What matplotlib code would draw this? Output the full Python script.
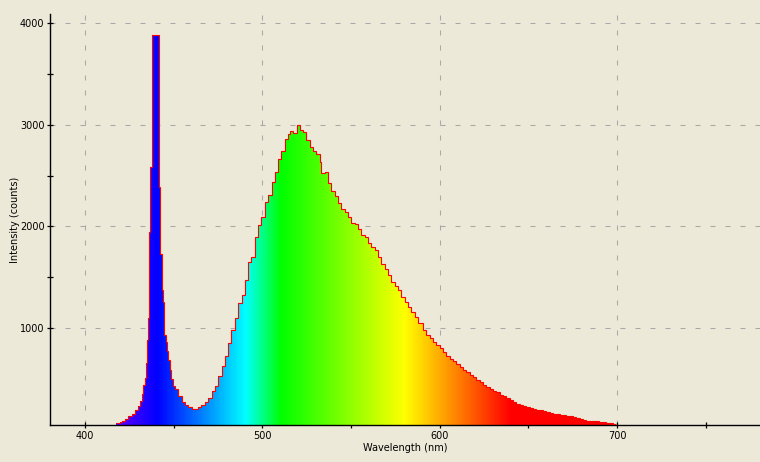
import matplotlib
matplotlib.use("Agg")
import matplotlib.pyplot as plt
import numpy as np
from matplotlib.colors import LinearSegmentedColormap

# spectrum: bin left edges (nm) and counts
edges = [417.5, 419.5, 420.7, 422.5, 424.4, 426.3, 428.2, 430.0, 431.0, 431.9,
         432.8, 433.8, 434.5, 435.1, 435.7, 436.1, 436.8, 437.6, 441.9, 442.4,
         443.2, 443.8, 444.7, 445.5, 446.0, 446.9, 447.9, 448.8, 449.7, 450.7,
         452.6, 454.5, 456.3, 458.2, 460.1, 462.0, 463.8, 465.7, 467.6, 469.5,
         471.4, 473.2, 475.1, 477.0, 478.9, 480.8, 482.6, 484.5, 486.4, 488.3,
         490.1, 492.0, 493.9, 495.8, 497.6, 499.5, 501.4, 503.3, 505.2, 507.0,
         508.9, 510.8, 512.7, 514.5, 515.5, 517.4, 519.3, 521.1, 523.0, 524.9,
         526.8, 528.6, 530.5, 532.4, 533.3, 535.2, 537.1, 539.0, 540.8, 542.7,
         544.6, 546.5, 548.3, 550.2, 552.1, 554.0, 555.9, 557.7, 559.6, 561.5,
         563.4, 565.2, 567.2, 569.0, 570.9, 572.8, 574.6, 576.5, 578.4, 580.3,
         582.1, 584.0, 585.9, 587.8, 590.6, 592.5, 594.4, 596.2, 598.1, 600.0,
         601.9, 603.8, 605.6, 607.5, 609.4, 611.3, 613.1, 615.0, 616.9, 618.8,
         620.7, 622.5, 624.4, 626.3, 628.2, 630.0, 631.9, 633.8, 635.7, 637.6,
         639.4, 641.3, 643.2, 645.1, 646.9, 648.8, 650.7, 652.6, 654.5, 656.3,
         658.2, 660.1, 662.0, 663.8, 665.7, 667.6, 669.5, 671.4, 673.2, 675.1,
         677.0, 678.9, 680.7, 682.6, 684.5, 686.4, 690.1, 693.9, 697.6, 699.5]
counts = [60, 70, 82, 106, 131, 155, 190, 236, 280, 354,
          435, 508, 660, 883, 1096, 1942, 2582, 3887, 2386, 1726,
          1374, 1259, 932, 867, 769, 687, 589, 498, 432, 400,
          327, 269, 245, 225, 204, 200, 220, 246, 269, 312,
          377, 426, 524, 622, 720, 851, 981, 1096, 1243, 1325,
          1472, 1651, 1700, 1896, 2011, 2092, 2239, 2305, 2435, 2533,
          2665, 2746, 2861, 2910, 2942, 2925, 3000, 2948, 2935, 2850,
          2778, 2739, 2713, 2631, 2523, 2533, 2425, 2347, 2295, 2229,
          2174, 2141, 2092, 2033, 2021, 1978, 1913, 1896, 1837, 1798,
          1766, 1700, 1635, 1586, 1521, 1455, 1413, 1374, 1308, 1259,
          1210, 1161, 1105, 1047, 981, 932, 900, 867, 834, 802,
          759, 726, 694, 671, 645, 616, 589, 563, 540, 514,
          491, 465, 442, 420, 400, 383, 367, 344, 327, 312,
          295, 269, 256, 246, 236, 224, 214, 204, 197, 190,
          181, 171, 165, 158, 155, 148, 141, 138, 131, 121,
          115, 106, 99, 89, 83, 83, 73, 66, 57]

# colour stops by wavelength
stop_nm = [415, 440, 490, 510, 580, 640, 700]
stop_col = ["#6a00ff", "#0000ff", "#00ffff", "#00ff00", "#ffff00", "#ff0000", "#ff0000"]

bg = "#ece9d8"

fig = plt.figure(figsize=(7.6, 4.62), dpi=100, facecolor=bg)
ax = fig.add_axes([50 / 760, 37 / 462, 710 / 760, 411 / 462], facecolor=bg)

xmin, xmax = 380.3, 780.6
ymin, ymax = 45, 4092

ax.grid(True, color="#a8a8a8", lw=0.75, linestyle=(0, (4.8, 9.6)))
ax.set_axisbelow(True)

shape = ax.stairs(counts, edges, baseline=0, fill=True, facecolor="none",
                  edgecolor="none", zorder=2)

cmap = LinearSegmentedColormap.from_list(
    "spec", [((s - stop_nm[0]) / (stop_nm[-1] - stop_nm[0]), c) for s, c in zip(stop_nm, stop_col)])
grad = np.linspace(0, 1, 600).reshape(1, -1)
im = ax.imshow(grad, cmap=cmap, aspect="auto",
               extent=[stop_nm[0], stop_nm[-1], 0, 4000], zorder=2, interpolation="bilinear")
im.set_clip_path(shape)

ax.stairs(counts, edges, baseline=None, color="#ff0000", lw=0.8, zorder=3)

ax.set_xlim(xmin, xmax)
ax.set_ylim(ymin, ymax)

ax.set_xticks([400, 500, 600, 700])
ax.set_xticks([450, 550, 650, 750], minor=True)
ax.set_yticks([1000, 2000, 3000, 4000])
ax.set_yticks([1500, 2500, 3500], minor=True)

for s in ["top", "right"]:
    ax.spines[s].set_visible(False)
for s in ["left", "bottom"]:
    ax.spines[s].set_linewidth(1.0)
    ax.spines[s].set_color("black")

ax.tick_params(which="both", direction="inout", length=4, width=0.9, colors="black",
               labelsize=7, pad=2)

ax.set_xlabel("Wavelength (nm)", fontsize=7, labelpad=2)
ax.set_ylabel("Intensity (counts)", fontsize=7, labelpad=0)

fig.savefig("out.png", dpi=100, facecolor=bg)
